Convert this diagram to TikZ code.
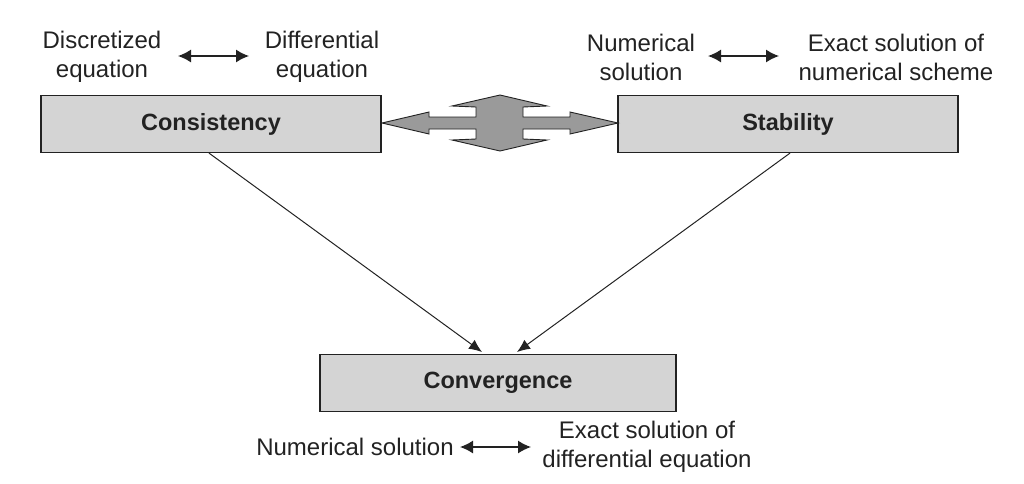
\documentclass[tikz,border=0pt]{standalone}
\usepackage{fontspec}
\setmainfont{Liberation Sans}
\usetikzlibrary{arrows.meta}
\definecolor{boxgray}{HTML}{D4D4D4}
\definecolor{bigarrow}{HTML}{9A9A9A}
\definecolor{ink}{HTML}{222222}
\begin{document}
\begin{tikzpicture}[x=1pt,y=-1pt,
  mainbox/.style={draw=ink,line width=1.2pt,fill=boxgray,minimum height=57pt,font=\fontsize{23.5}{26}\selectfont\bfseries,text=ink},
  lbl/.style={align=center,font=\fontsize{24}{29}\selectfont,text=ink,inner sep=0pt},
  pairarrow/.style={{Latex[length=13pt,width=13pt]}-{Latex[length=13pt,width=13pt]},line width=1.3pt,draw=ink},
  feed/.style={-{Latex[length=13pt,width=11pt]},line width=1pt,draw=ink}]
\useasboundingbox (0,0) rectangle (1024,483);
% boxes
\node[mainbox,minimum width=340pt] (cons) at (211,124) {Consistency};
\node[mainbox,minimum width=340pt] (stab) at (788,124) {Stability};
\node[mainbox,minimum width=356pt] (conv) at (498,383) {Convergence};
% big four-way arrow
\filldraw[fill=bigarrow,draw=ink,line width=0.9pt]
  (382,123) -- (429,112) -- (429,117) -- (476,117) -- (476,107) -- (452,106)
  -- (500,95) -- (547,106) -- (523,107) -- (523,117) -- (570,117) -- (570,112)
  -- (618,123) -- (570,134) -- (570,129) -- (523,129) -- (523,139) -- (547,140)
  -- (500,151) -- (452,140) -- (476,139) -- (476,129) -- (429,129) -- (429,134) -- cycle;
% top labels left
\node[lbl] (disc) at (102,57) {Discretized\\equation};
\node[lbl] (diff) at (322,57) {Differential\\equation};
\coordinate (a1) at (178,56);
\coordinate (a2) at (249,56);
\draw[pairarrow] (a1) -- (a2);
% top labels right
\node[lbl] (num) at (641,57) {Numerical\\solution};
\node[lbl] (exs) at (896,57) {Exact solution of\\numerical scheme};
\coordinate (b1) at (708,56);
\coordinate (b2) at (779,56);
\draw[pairarrow] (b1) -- (b2);
% bottom labels
\node[lbl] (numb) at (355,447) {Numerical solution};
\node[lbl] (exd) at (647,447) {Exact solution of\\differential equation};
\coordinate (c1) at (460,447);
\coordinate (c2) at (531,447);
\draw[pairarrow] (c1) -- (c2);
% feed connectors
\coordinate (t1) at (482,352);
\coordinate (t2) at (517,352);
\draw[feed] (cons.south -| 209,0) -- (t1);
\draw[feed] (stab.south -| 790,0) -- (t2);
\end{tikzpicture}
\end{document}
